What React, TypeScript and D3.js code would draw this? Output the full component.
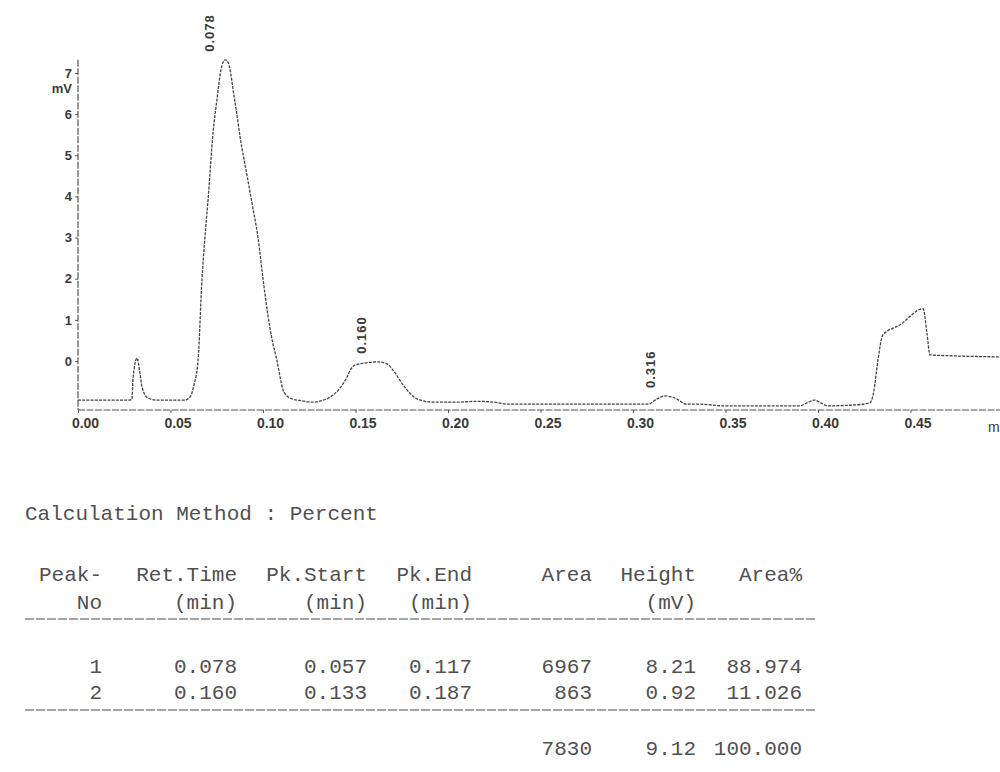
import React, { useRef, useEffect } from 'react';
import * as d3 from 'd3';

// chromatogram trace (time in min, signal in mV)
const traceTime = [
  0.000, 0.027, 0.0292, 0.0297, 0.0319, 0.0335, 0.0346, 0.0378, 0.0427, 0.055,
  0.0578, 0.0605, 0.0627, 0.0649, 0.067, 0.0686, 0.0703, 0.073, 0.0751, 0.0773,
  0.0795, 0.0805, 0.0816, 0.0827, 0.0838, 0.0857, 0.0876, 0.0908, 0.094, 0.0973,
  0.100, 0.1027, 0.105, 0.1076, 0.1095, 0.1108, 0.113, 0.1157, 0.120, 0.1227,
  0.127, 0.131, 0.1362, 0.1416, 0.1454, 0.1475, 0.1497, 0.1551, 0.1616,
  0.167, 0.1714, 0.1757, 0.1805, 0.1832, 0.1919, 0.205, 0.215, 0.225, 0.232,
  0.300, 0.308, 0.313, 0.3173, 0.3227, 0.329, 0.336, 0.349, 0.390, 0.394,
  0.398, 0.402, 0.405, 0.419, 0.428, 0.430, 0.4324, 0.435, 0.4443, 0.4568,
  0.4589, 0.4605, 0.470, 0.4984,
];
const traceMv = [
  -0.95, -0.95, -0.93, -0.46, 0.07, -0.3, -0.63, -0.9, -0.95, -0.95,
  -0.95, -0.88, -0.58, 0.02, 1.97, 3.0, 3.92, 5.55, 6.35, 7.08,
  7.32, 7.3, 7.2, 6.95, 6.6, 6.05, 5.45, 4.65, 3.85, 3.0,
  2.0, 1.1, 0.5, 0.0, -0.45, -0.7, -0.85, -0.92, -0.96, -0.98,
  -1.0, -0.97, -0.88, -0.66, -0.39, -0.2, -0.1, -0.05, -0.02,
  -0.07, -0.29, -0.58, -0.83, -0.92, -1.0, -1.0, -0.98, -1.0, -1.05,
  -1.05, -1.05, -0.92, -0.85, -0.9, -1.05, -1.05, -1.09, -1.09, -1.02,
  -0.95, -1.03, -1.09, -1.07, -1.02, -0.78, 0.02, 0.63, 0.88, 1.27,
  0.68, 0.15, 0.13, 0.1,
];

const peakLabels = [0.078, 0.160, 0.316];
const xTicks = [0, 0.05, 0.10, 0.15, 0.20, 0.25, 0.30, 0.35, 0.40, 0.45];
const yTicks = [0, 1, 2, 3, 4, 5, 6, 7];

// result table
const headerTop = ['Peak-', 'Ret.Time', 'Pk.Start', 'Pk.End', 'Area', 'Height', 'Area%'];
const headerBottom = ['No', '(min)', '(min)', '(min)', '', '(mV)', ''];
const peakNo = ['1', '2'];
const retTime = ['0.078', '0.160'];
const pkStart = ['0.057', '0.133'];
const pkEnd = ['0.117', '0.187'];
const area = ['6967', '863'];
const heightMv = ['8.21', '0.92'];
const areaPct = ['88.974', '11.026'];
const totals = ['', '', '', '', '7830', '9.12', '100.000'];

const App = () => {
  const svgRef = useRef(null);

  useEffect(() => {
    document.body.style.margin = '0';
    const svg = d3.select(svgRef.current);
    svg.selectAll('*').remove();

    const width = 1000;
    const axisY = 410;
    const x = d3.scaleLinear().domain([0, 0.45]).range([78, 910.5]);
    const y = d3.scaleLinear().domain([0, 7]).range([361, 73]);
    const ink = '#3a3a3a';
    const sans = '"Liberation Sans", Arial, sans-serif';

    // x axis
    svg.append('line')
      .attr('x1', x(0)).attr('x2', width)
      .attr('y1', axisY).attr('y2', axisY)
      .attr('stroke', '#555').attr('stroke-width', 1.2)
      .attr('stroke-dasharray', '7 1.5');

    const gx = svg.append('g')
      .attr('transform', `translate(0,${axisY})`)
      .call(d3.axisBottom(x).tickValues(xTicks).tickFormat(d3.format('.2f')).tickSize(3).tickPadding(5));
    gx.select('.domain').remove();
    gx.selectAll('line').attr('stroke', '#555');
    gx.selectAll('text')
      .attr('dx', 7)
      .attr('fill', ink)
      .attr('font-size', 14)
      .attr('font-weight', 'bold')
      .attr('font-family', sans);

    // axis title, cut by the page edge as on the printout
    svg.append('text')
      .attr('x', 988).attr('y', axisY + 22)
      .attr('fill', ink).attr('font-size', 14)
      .attr('font-family', sans)
      .text('min');

    // y axis
    svg.append('line')
      .attr('x1', x(0)).attr('x2', x(0))
      .attr('y1', y(7.32)).attr('y2', axisY)
      .attr('stroke', '#555').attr('stroke-width', 1.2)
      .attr('stroke-dasharray', '7 1.5');

    const gy = svg.append('g')
      .attr('transform', `translate(${x(0)},0)`)
      .call(d3.axisLeft(y).tickValues(yTicks).tickFormat(d3.format('d')).tickSize(3).tickPadding(3));
    gy.select('.domain').remove();
    gy.selectAll('line').attr('stroke', '#555');
    gy.selectAll('text')
      .attr('fill', ink)
      .attr('font-size', 13)
      .attr('font-weight', 'bold')
      .attr('font-family', sans);

    svg.append('text')
      .attr('x', 72).attr('y', 93)
      .attr('text-anchor', 'end')
      .attr('fill', ink).attr('font-size', 13)
      .attr('font-weight', 'bold')
      .attr('font-family', sans)
      .text('mV');

    // trace
    const points = traceTime.map((t, i) => [t, traceMv[i]]);
    const line = d3.line()
      .x(d => x(d[0]))
      .y(d => y(d[1]))
      .curve(d3.curveMonotoneX);

    svg.append('path')
      .attr('d', line(points))
      .attr('fill', 'none')
      .attr('stroke', '#444')
      .attr('stroke-width', 1.3)
      .attr('stroke-dasharray', '3 1.2');

    // retention time labels above peaks
    peakLabels.forEach(rt => {
      const near = points.filter(p => Math.abs(p[0] - rt) < 0.012);
      const top = d3.max(near, p => p[1]);
      svg.append('text')
        .attr('transform', `translate(${x(rt) - 8},${y(top) - 8}) rotate(-90)`)
        .attr('fill', ink)
        .attr('font-size', 13)
        .attr('font-weight', 'bold')
        .attr('letter-spacing', 1)
        .attr('font-family', sans)
        .text(d3.format('.3f')(rt));
    });

    // table
    const mono = '"Liberation Mono", "Courier New", monospace';
    const tableInk = '#505050';
    const colRight = [102, 237, 367, 472, 592, 696, 802];
    const addRow = (cells, baseline) => {
      cells.forEach((c, i) => {
        if (!c) return;
        svg.append('text')
          .attr('x', colRight[i]).attr('y', baseline)
          .attr('text-anchor', 'end')
          .attr('fill', tableInk)
          .attr('font-size', 21)
          .attr('font-family', mono)
          .text(c);
      });
    };
    const rule = (yy) => {
      svg.append('line')
        .attr('x1', 25).attr('x2', 815)
        .attr('y1', yy).attr('y2', yy)
        .attr('stroke', '#888').attr('stroke-width', 1.5)
        .attr('stroke-dasharray', '9 2');
    };

    svg.append('text')
      .attr('x', 25).attr('y', 520)
      .attr('fill', tableInk)
      .attr('font-size', 21)
      .attr('font-family', mono)
      .text('Calculation Method : Percent');

    addRow(headerTop, 581);
    addRow(headerBottom, 609);
    rule(619);
    peakNo.forEach((n, i) => {
      addRow([n, retTime[i], pkStart[i], pkEnd[i], area[i], heightMv[i], areaPct[i]], 673 + i * 26);
    });
    rule(710);
    addRow(totals, 755);
  }, []);

  return (
    <svg ref={svgRef} width={1000} height={772} style={{ display: 'block', background: '#fff' }} />
  );
};

export default App;
